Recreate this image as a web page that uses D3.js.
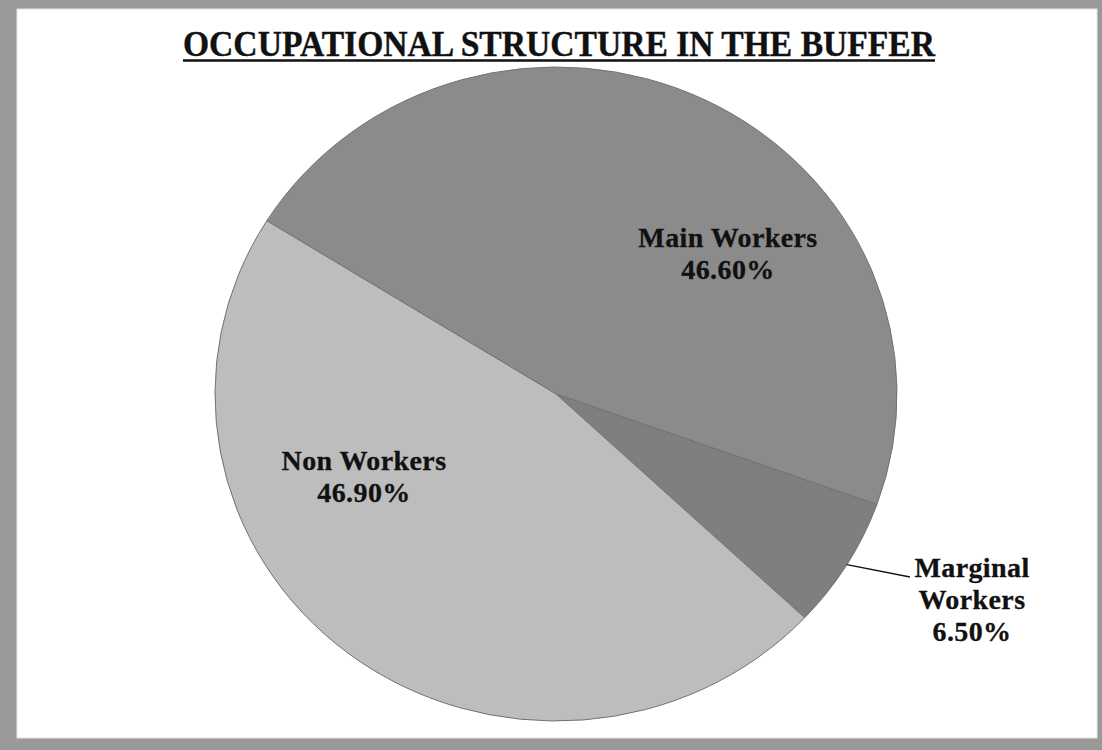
<!DOCTYPE html>
<html>
<head>
<meta charset="utf-8">
<script src="https://cdn.jsdelivr.net/npm/d3@7"></script>
<style>
  html, body { margin: 0; padding: 0; background: #999999; }
  svg { display: block; }
</style>
</head>
<body>
<svg id="chart" width="1102" height="750"></svg>
<script>
// Occupational structure shares (percent)
const categories = ["Main Workers", "Marginal Workers", "Non Workers"];
const values = [46.6, 6.5, 46.9];
const valueLabels = ["46.60%", "6.50%", "46.90%"];
const labelLines = [["Main Workers"], ["Marginal", "Workers"], ["Non Workers"]];
const colors = ["#8b8b8b", "#7f7f7f", "#bdbdbd"];

const title = "OCCUPATIONAL STRUCTURE IN THE BUFFER";

// Layout
const W = 1102, H = 750;
const cx = 556, cy = 394;
const rx = 341, ry = 327;
const startDeg = -58;
// label anchor (centre x, first baseline y) for each slice
const labelPos = [
  { x: 728, y: 247 },
  { x: 972, y: 577 },
  { x: 364, y: 470 }
];
const lineStep = 32;
const fontFamily = "'Liberation Serif', 'Times New Roman', serif";

const svg = d3.select("#chart");

// frame: gray outer border, white panel
svg.append("rect").attr("width", W).attr("height", H).attr("fill", "#999999");
svg.append("rect")
  .attr("x", 17).attr("y", 9)
  .attr("width", 1080).attr("height", 729)
  .attr("fill", "#ffffff")
  .attr("stroke", "#e6e6e6").attr("stroke-width", 1);

// title with underline
svg.append("text")
  .attr("x", 559).attr("y", 56)
  .attr("text-anchor", "middle")
  .attr("font-family", fontFamily)
  .attr("font-weight", "bold")
  .attr("font-size", 35)
  .attr("textLength", 752)
  .attr("lengthAdjust", "spacingAndGlyphs")
  .attr("fill", "#111")
  .attr("stroke", "#111").attr("stroke-width", 0.4)
  .text(title);
svg.append("line")
  .attr("x1", 183).attr("x2", 935)
  .attr("y1", 60.5).attr("y2", 60.5)
  .attr("stroke", "#111").attr("stroke-width", 2.5);

// pie
const start = startDeg * Math.PI / 180;
const pie = d3.pie().sort(null).value(d => d)
  .startAngle(start).endAngle(start + 2 * Math.PI);
const arcs = pie(values);

const arc = d3.arc().innerRadius(0).outerRadius(ry);

const g = svg.append("g")
  .attr("transform", `translate(${cx},${cy}) scale(${rx / ry},1)`);

g.selectAll("path.slice")
  .data(arcs)
  .join("path")
  .attr("class", "slice")
  .attr("d", arc)
  .attr("fill", (d, i) => colors[i])
  .attr("stroke", "#727272")
  .attr("stroke-width", 1)
  .attr("vector-effect", "non-scaling-stroke");

// leader line for the small slice: from the outer edge at its mid-angle to the label
const ms = arcs[1];
const mid = (ms.startAngle + ms.endAngle) / 2;
const ex = cx + Math.sin(mid) * rx;
const ey = cy - Math.cos(mid) * ry;
svg.append("polyline")
  .attr("points", `${ex},${ey} ${labelPos[1].x - 62},${labelPos[1].y}`)
  .attr("fill", "none")
  .attr("stroke", "#111")
  .attr("stroke-width", 1.3);

// labels
arcs.forEach((d, i) => {
  const lines = labelLines[i].concat([valueLabels[i]]);
  const t = svg.append("text")
    .attr("text-anchor", "middle")
    .attr("font-family", fontFamily)
    .attr("font-weight", "bold")
    .attr("font-size", 28)
    .attr("letter-spacing", 0.4)
    .attr("fill", "#111")
    .attr("stroke", "#111").attr("stroke-width", 0.3);
  lines.forEach((s, k) => {
    t.append("tspan")
      .attr("x", labelPos[i].x)
      .attr("y", labelPos[i].y + k * lineStep)
      .text(s);
  });
});
</script>
</body>
</html>
